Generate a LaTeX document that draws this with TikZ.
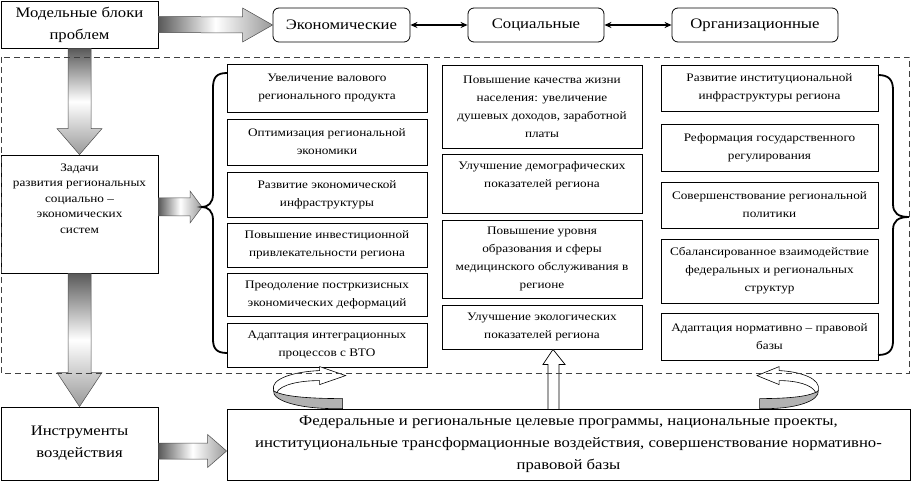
\documentclass[tikz,border=0pt]{standalone}
\usepackage{fontspec}
\setmainfont{Liberation Serif}[FakeStretch=1.15]
\usetikzlibrary{arrows.meta,calc}

\tikzstyle{block}=[draw,line width=0.8pt,align=center,inner sep=1pt,font=\fontsize{11.5}{18}\selectfont]
\tikzstyle{ecoblock}=[block,minimum width=200]
\tikzstyle{socblock}=[block,minimum width=200]
\tikzstyle{orgblock}=[block,minimum width=217]
\tikzstyle{mainblock}=[draw,line width=0.8pt,align=center,inner sep=1pt,font=\fontsize{14.5}{22}\selectfont]
\tikzstyle{kindblock}=[mainblock,rounded corners=6pt,minimum height=34]
\tikzstyle{fatarrow}=[draw=black!70,line width=0.5pt]
\tikzstyle{hfat}=[fatarrow,left color=black!65,right color=black!40,middle color=white]
\tikzstyle{vfat}=[fatarrow,top color=black!65,bottom color=black!40,middle color=white]
\tikzstyle{openarrow}=[draw=black,line width=0.7pt,fill=white]
\tikzstyle{biedge}=[{Stealth[length=7pt,width=6pt]}-{Stealth[length=7pt,width=6pt]},line width=1.4pt]
\tikzstyle{brace}=[line width=1.8pt]

\tikzset{cycarrow/.pic={
  \draw[line width=0.6pt,fill=black!30] (0,0) .. controls (-43,1) and (-71,-8) .. (-69,-18)
    .. controls (-61,-12) and (-33,-10) .. (0,-10) -- cycle;
  \draw[line width=0.6pt,fill=white] (-69,-18) .. controls (-73,-30) and (-48,-37) .. (-23,-38)
    -- (-23,-42) -- (3,-33) -- (-23,-24) -- (-23,-28)
    .. controls (-43,-28) and (-62,-24) .. (-66,-16) -- cycle;
}}

\begin{document}
\begin{tikzpicture}[x=1pt,y=-1pt]
\useasboundingbox (0,0) rectangle (911,481);
% top row
\node[mainblock,minimum width=157,minimum height=47] (mb) at (79.5,24.5) {Модельные блоки\\проблем};
\node[kindblock,minimum width=137] (eco) at (341.5,25) {Экономические};
\node[kindblock,minimum width=136] (soc) at (536,25) {Социальные};
\node[kindblock,minimum width=166] (org) at (755,25) {Организационные};
\draw[biedge] (eco) -- (soc);
\draw[biedge] (soc) -- (org);
% left column
\node[block,minimum width=157,minimum height=118,font=\fontsize{11.5}{15.5}\selectfont] (tasks) at (79.5,214)
  {Задачи\\развития региональных\\социально –\\экономических\\систем\\~\\~};
\node[mainblock,minimum width=157,minimum height=73] (instr) at (79.5,443.5) {Инструменты\\воздействия};
\node[mainblock,minimum width=683,minimum height=71] (prog) at (568.5,444.5)
  {Федеральные и региональные целевые программы, национальные проекты,\\
   институциональные трансформационные воздействия, совершенствование нормативно-\\
   правовой базы};
% economic tasks
\node[ecoblock,minimum height=48] (e1) at (327,88) {Увеличение валового\\регионального продукта};
\node[ecoblock,minimum height=46] (e2) at (327,142) {Оптимизация региональной\\экономики};
\node[ecoblock,minimum height=45] (e3) at (327,194.5) {Развитие экономической\\инфраструктуры};
\node[ecoblock,minimum height=44] (e4) at (327,245) {Повышение инвестиционной\\привлекательности региона};
\node[ecoblock,minimum height=43] (e5) at (327,294.5) {Преодоление постркизисных\\экономических деформаций};
\node[ecoblock,minimum height=44] (e6) at (327,345) {Адаптация интеграционных\\процессов с ВТО};
% social tasks
\node[socblock,minimum height=83] (s1) at (542,106.5)
  {Повышение качества жизни\\населения: увеличение\\душевых доходов, заработной\\платы};
\node[socblock,minimum height=59] (s2) at (542,183.5) {Улучшение демографических\\показателей региона\\~};
\node[socblock,minimum height=78] (s3) at (542,259)
  {Повышение уровня\\образования и сферы\\медицинского обслуживания в\\регионе};
\node[socblock,minimum height=44] (s4) at (542,327) {Улучшение экологических\\показателей региона};
% organizational tasks
\node[orgblock,minimum height=46] (o1) at (769.5,88) {Развитие институциональной\\инфраструктуры региона};
\node[orgblock,minimum height=47] (o2) at (769.5,147.5) {Реформация государственного\\регулирования};
\node[orgblock,minimum height=46] (o3) at (769.5,205) {Совершенствование региональной\\политики};
\node[orgblock,minimum height=64] (o4) at (769.5,271)
  {Сбалансированное взаимодействие\\федеральных и региональных\\структур};
\node[orgblock,minimum height=47] (o5) at (769.5,336.5) {Адаптация нормативно – правовой\\базы};
% fat arrows
\draw[hfat] ($(mb.east)+(0,-8)$) -- ($(eco.west)+(-30,-8)$) -- ($(eco.west)+(-30,-17)$) -- (eco.west)
  -- ($(eco.west)+(-30,17)$) -- ($(eco.west)+(-30,8)$) -- ($(mb.east)+(0,8)$) -- cycle;
\draw[vfat] ($(mb.south)+(-11.5,0)$) -- ($(tasks.north)+(-11.5,-26)$) -- ($(tasks.north)+(-22.5,-26)$) -- (tasks.north)
  -- ($(tasks.north)+(22.5,-26)$) -- ($(tasks.north)+(11.5,-26)$) -- ($(mb.south)+(11.5,0)$) -- cycle;
\draw[vfat] ($(tasks.south)+(-11.5,0)$) -- ($(instr.north)+(-11.5,-34)$) -- ($(instr.north)+(-22.5,-34)$) -- (instr.north)
  -- ($(instr.north)+(22.5,-34)$) -- ($(instr.north)+(11.5,-34)$) -- ($(tasks.south)+(11.5,0)$) -- cycle;
\coordinate (lbr) at (202,207);
\draw[hfat] ($(tasks.east|-lbr)+(0,-9)$) -- ($(lbr)+(-12,-9)$) -- ($(lbr)+(-12,-16)$) -- (lbr)
  -- ($(lbr)+(-12,16)$) -- ($(lbr)+(-12,9)$) -- ($(tasks.east|-lbr)+(0,9)$) -- cycle;
\coordinate (ptip) at ($(prog.west)+(0,6.5)$);
\draw[hfat] ($(instr.east|-ptip)+(0,-8)$) -- ($(ptip)+(-19,-8)$) -- ($(ptip)+(-19,-16.5)$) -- (ptip)
  -- ($(ptip)+(-19,16.5)$) -- ($(ptip)+(-19,8)$) -- ($(instr.east|-ptip)+(0,8)$) -- cycle;
% braces
\draw[brace] (227,73) .. controls (216,73) and (213,78) .. (213,88) -- (213,194)
  .. controls (213,203) and (208,207) .. (lbr) .. controls (208,207) and (213,211) .. (213,220)
  -- (213,339) .. controls (213,348) and (216,353) .. (227,353);
\draw[brace] (878,75) .. controls (889,75) and (893,80) .. (893,90) -- (893,204)
  .. controls (893,213) and (898,217) .. (909,217) .. controls (898,217) and (893,221) .. (893,230)
  -- (893,341) .. controls (893,350) and (889,355) .. (878,355);
% feedback arrows
\coordinate (upt) at ($(s4.south)+(11,0)$);
\draw[openarrow] (upt) -- ++(12,15) -- ++(-6,0) -- ++(0,45) -- ++(-11,0) -- ++(0,-45) -- ++(-5,0) -- cycle;
\pic at ($(prog.north west)+(116,0)$) {cycarrow};
\pic[xscale=-0.85] at ($(prog.north west)+(533,0)$) {cycarrow};
% dashed frame
\draw[dashed,dash pattern=on 6pt off 4pt,line width=0.7pt,black!75] (1.5,57) rectangle (909.5,373);
\end{tikzpicture}
\end{document}
